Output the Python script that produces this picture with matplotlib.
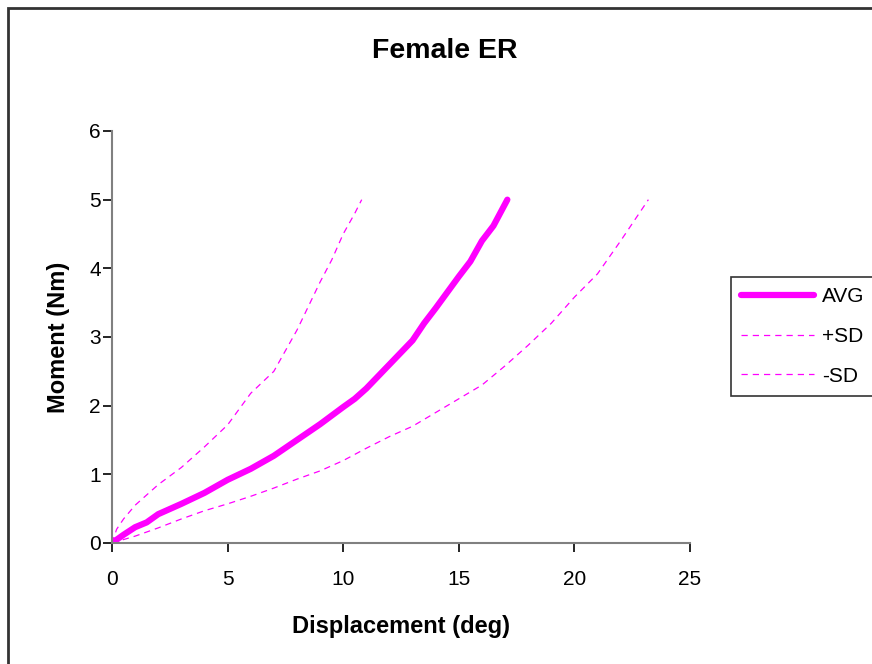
import matplotlib
matplotlib.use("Agg")
import matplotlib.pyplot as plt
from matplotlib.patches import Rectangle

plt.rcParams['font.family'] = ['Liberation Sans', 'DejaVu Sans']

# Average curve
avg_x = [0, 0.5, 1, 1.5, 2, 3, 4, 5, 5.5, 6, 7, 8, 9, 10, 10.5, 11, 12, 13,
         13.5, 14, 15, 15.5, 16, 16.5, 17.1]
avg_y = [0, 0.12, 0.23, 0.3, 0.42, 0.57, 0.73, 0.92, 1.0, 1.08, 1.27, 1.5,
         1.73, 1.98, 2.1, 2.25, 2.6, 2.95, 3.2, 3.42, 3.88, 4.1, 4.4, 4.62, 5.0]

# +SD curve
psd_x = [0, 0.2, 0.5, 1, 1.5, 2, 3, 4, 5, 5.5, 6, 7, 7.5, 8, 8.5, 9, 9.5,
         10, 10.5, 10.8]
psd_y = [0, 0.2, 0.35, 0.55, 0.7, 0.85, 1.1, 1.4, 1.72, 1.95, 2.18, 2.5,
         2.8, 3.1, 3.45, 3.8, 4.12, 4.5, 4.8, 5.0]

# -SD curve
msd_x = [0, 1, 2, 3, 4, 5, 6, 7, 8, 9, 10, 11, 12, 13, 14, 15, 16, 17, 18,
         19, 20, 21, 22, 23.2]
msd_y = [0, 0.1, 0.22, 0.35, 0.47, 0.57, 0.68, 0.8, 0.93, 1.05, 1.2, 1.38,
         1.55, 1.7, 1.9, 2.1, 2.3, 2.58, 2.88, 3.2, 3.58, 3.92, 4.4, 5.0]

x_ticks = [0, 5, 10, 15, 20, 25]
y_ticks = [0, 1, 2, 3, 4, 5, 6]

W, H = 872, 664
fig = plt.figure(figsize=(W / 100, H / 100), dpi=100)
ax = fig.add_axes([112 / W, 1 - 543 / H, (690 - 112) / W, (543 - 131) / H])

mag = "#FF00FF"
ax.plot(avg_x, avg_y, color=mag, lw=4.5, solid_capstyle="round", label="AVG")
ax.plot(psd_x, psd_y, color=mag, lw=0.9, ls=(0, (5, 4)), label="+SD")
ax.plot(msd_x, msd_y, color=mag, lw=0.9, ls=(0, (5, 4)), label="-SD")

ax.set_xlim(0, 25)
ax.set_ylim(0, 6)
ax.set_xticks(x_ticks)
ax.set_yticks(y_ticks)
for s in ["top", "right"]:
    ax.spines[s].set_visible(False)
for s in ["left", "bottom"]:
    ax.spines[s].set_color("#808080")
    ax.spines[s].set_linewidth(1.5)
ax.tick_params(direction="out", length=6.5, width=1.2, color="black",
               labelsize=15)
ax.tick_params(axis="x", pad=13)
ax.tick_params(axis="y", pad=1.5)

ax.set_xlabel("Displacement (deg)", fontsize=17, fontweight="bold", labelpad=19)
ax.set_ylabel("Moment (Nm)", fontsize=17, fontweight="bold", labelpad=14)
fig.text(445 / W, 1 - 51 / H, "Female ER", fontsize=20.5, fontweight="bold",
         ha="center", va="center")

leg = ax.legend(loc="upper left", bbox_to_anchor=(731 / W, 1 - 277 / H),
                bbox_transform=fig.transFigure, fontsize=15, frameon=True,
                fancybox=False, edgecolor="black", handlelength=3.5,
                labelspacing=1.0, borderpad=0.48, handletextpad=0.4,
                borderaxespad=0)
leg.get_frame().set_linewidth(1.2)

# outer chart frame
fig.patches.append(Rectangle((8 / W, -0.1), 1.2, 1 - 8 / H + 0.1,
                             transform=fig.transFigure, fill=False,
                             edgecolor="#333333", lw=2))

fig.savefig("out.png", dpi=100)
